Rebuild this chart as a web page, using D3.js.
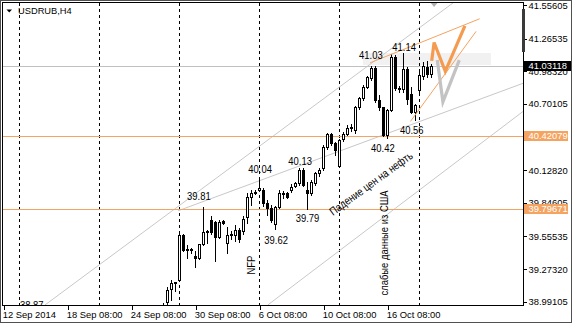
<!DOCTYPE html>
<html>
<head>
<meta charset="utf-8">
<script src="https://cdn.jsdelivr.net/npm/d3@7"></script>
<style>
  html, body { margin: 0; padding: 0; background: #fff; }
  svg { display: block; }
  text { font-family: "Liberation Sans", Arial, sans-serif; }
</style>
</head>
<body>
<svg id="chart" width="572" height="325"></svg>
<script>
// H4 bars are numbered from 12 Sep 2014 (bar 0); the first visible candle is bar 40
const firstBar = 40;
const opens  = [38.93, 38.99, 39.10, 39.155, 39.18, 39.57, 39.44, 39.445, 39.39, 39.37,
                39.49, 39.59, 39.70, 39.68, 39.55, 39.69, 39.50, 39.565, 39.565, 39.61,
                39.60, 39.72, 39.90, 39.935, 39.955, 39.96, 39.84, 39.80, 39.665, 39.81,
                39.93, 39.93, 39.96, 39.99, 40.015, 40.13, 39.96, 39.935, 40.02, 40.10,
                40.15, 40.33, 40.445, 40.36, 40.16, 40.395, 40.445, 40.49, 40.475, 40.67,
                40.75, 40.85, 40.925, 41.01, 40.735, 40.67, 40.43, 40.65, 41.11, 40.84,
                40.83, 41.00, 40.79, 40.63, 40.82, 40.94, 41.02, 40.96];
const highs  = [38.98, 39.12, 39.18, 39.165, 39.60, 39.58, 39.48, 39.455, 39.43, 39.49,
                39.81, 39.61, 39.73, 39.69, 39.70, 39.70, 39.64, 39.60, 39.65, 39.63,
                39.73, 39.93, 39.96, 39.96, 40.04, 39.97, 39.87, 39.83, 39.82, 39.96,
                39.95, 39.94, 40.01, 40.03, 40.145, 40.145, 40.03, 40.04, 40.115, 40.145,
                40.35, 40.45, 40.45, 40.375, 40.395, 40.46, 40.52, 40.525, 40.68, 40.765,
                40.865, 40.94, 41.03, 41.025, 40.78, 40.675, 40.66, 41.13, 41.12, 40.86,
                41.14, 41.02, 40.85, 40.70, 40.98, 41.06, 41.07, 41.05];
const lows   = [38.88, 38.94, 39.01, 39.08, 39.17, 39.43, 39.37, 39.41, 39.29, 39.36,
                39.48, 39.50, 39.58, 39.34, 39.54, 39.66, 39.41, 39.53, 39.52, 39.51,
                39.58, 39.67, 39.83, 39.92, 39.945, 39.82, 39.74, 39.68, 39.62, 39.80,
                39.89, 39.89, 39.94, 39.98, 40.00, 39.99, 39.79, 39.91, 40.00, 40.08,
                40.13, 40.31, 40.345, 40.26, 40.155, 40.38, 40.43, 40.47, 40.45, 40.66,
                40.735, 40.835, 40.91, 40.72, 40.65, 40.42, 40.41, 40.64, 40.82, 40.80,
                40.80, 40.70, 40.62, 40.56, 40.80, 40.92, 40.93, 40.93];
const closes = [38.95, 39.09, 39.15, 39.16, 39.57, 39.44, 39.45, 39.44, 39.37, 39.49,
                39.59, 39.60, 39.59, 39.55, 39.68, 39.67, 39.57, 39.575, 39.61, 39.53,
                39.71, 39.90, 39.93, 39.94, 39.97, 39.84, 39.80, 39.70, 39.81, 39.93,
                39.92, 39.90, 39.985, 40.015, 40.13, 40.00, 39.93, 40.03, 40.10, 40.13,
                40.33, 40.445, 40.36, 40.30, 40.39, 40.445, 40.49, 40.50, 40.67, 40.75,
                40.85, 40.93, 41.01, 40.735, 40.67, 40.43, 40.65, 41.11, 40.84, 40.83,
                41.00, 40.74, 40.63, 40.69, 40.95, 41.03, 40.96, 41.03118];

const xTickBars   = [0, 16, 32, 48, 64, 80, 96];
const xTickLabels = ["12 Sep 2014", "18 Sep 08:00", "24 Sep 08:00", "30 Sep 08:00",
                     "6 Oct 08:00", "10 Oct 08:00", "16 Oct 08:00"];
const weekStartBars = [4, 24, 44, 64, 84, 104];
const yTickValues = [41.55605, 41.26535, 40.98320, 40.70105, 40.41890,
                     40.12820, 39.84605, 39.55535, 39.27320, 38.99105];

const levelPrices = [40.42079, 39.79671];
const lastPrice = 41.03118;

// price notes: text objects anchored at (bar, price)
const noteTexts  = ["39.81", "40.04", "39.62", "39.79", "40.13", "40.42", "40.56", "41.03", "41.14", "38.87"];
const noteBars   = [48.9, 64.2, 68.2, 76.05, 74.2, 94.9, 102.1, 91.9, 100.2, 7.1];
const notePrices = [39.905, 40.138, 39.524, 39.715, 40.207, 40.324, 40.475, 41.128, 41.193, 38.962];

// rotated comments
const commentTexts  = ["NFP", "слабые данные из США", "Падение цен на нефть"];
const commentBars   = [62.0, 95.2, 91.9];
const commentPrices = [39.308, 39.499, 40.015];
const commentAngles = [-90, -90, -36];

// trend lines as [bar1, price1, bar2, price2]
const grayLines = [
  [10.4, 38.962, 113.4, 41.599],
  [43.7, 39.777, 130.0, 40.880],
  [66.1, 38.962, 129.9, 40.635]
];
const orangeLines = [
  [91.7, 41.056, 119.1, 41.437],
  [101.8, 40.550, 118.2, 41.328]
];
// resistance zone [bar1, price1, bar2, price2]
const zone = [89.9, 41.141, 121.9, 41.037];
// forecast zigzags as bar / price lists
const upBars   = [107.1, 107.7, 110.5, 115.4];
const upPrices = [41.073, 41.232, 40.983, 41.376];
const downBars   = [108.5, 109.9, 114.0];
const downPrices = [41.080, 40.719, 41.080];
const markBar = 107.7;

const W = 572, H = 325;
const plotL = 2.5, plotR = 523.5, plotT = 2.5, plotB = 305.5;
const orange = "#f4a460";

const x = d3.scaleLinear().domain([0, 130]).range([3.3, 523.3]);
const y = d3.scaleLinear().domain([38.99105, 41.55605]).range([301.7, 5]);

const svg = d3.select("#chart");

svg.append("rect").attr("width", W).attr("height", H).attr("fill", "#fff");

svg.append("defs").append("clipPath").attr("id", "plotClip")
  .append("rect").attr("x", 3).attr("y", 3).attr("width", plotR - 3.5).attr("height", plotB - 3.5);

const plot = svg.append("g").attr("clip-path", "url(#plotClip)");

// resistance zone
plot.append("rect")
  .attr("x", x(zone[0])).attr("y", y(zone[1]))
  .attr("width", x(zone[2]) - x(zone[0]))
  .attr("height", y(zone[3]) - y(zone[1]))
  .attr("fill", "#f1f1f1");

// weekly separators
plot.selectAll("line.week").data(weekStartBars).join("line")
  .attr("class", "week")
  .attr("x1", d => Math.round(x(d)) + 0.5).attr("x2", d => Math.round(x(d)) + 0.5)
  .attr("y1", plotT).attr("y2", plotB)
  .attr("stroke", "#000").attr("stroke-dasharray", "3,3")
  .attr("shape-rendering", "crispEdges");

// gray channel lines
plot.selectAll("line.chan").data(grayLines).join("line")
  .attr("class", "chan")
  .attr("x1", d => x(d[0])).attr("y1", d => y(d[1]))
  .attr("x2", d => x(d[2])).attr("y2", d => y(d[3]))
  .attr("stroke", "#c8c8c8").attr("stroke-width", 1);

// bid line
plot.append("line")
  .attr("x1", plotL).attr("x2", plotR)
  .attr("y1", Math.round(y(lastPrice)) + 0.5).attr("y2", Math.round(y(lastPrice)) + 0.5)
  .attr("stroke", "#c0c0c0").attr("shape-rendering", "crispEdges");

// horizontal levels
plot.selectAll("line.level").data(levelPrices).join("line")
  .attr("class", "level")
  .attr("x1", plotL).attr("x2", plotR)
  .attr("y1", d => Math.round(y(d)) + 0.5).attr("y2", d => Math.round(y(d)) + 0.5)
  .attr("stroke", orange).attr("shape-rendering", "crispEdges");

// candles
const bars = opens.map((o, j) => ({ bar: firstBar + j, o, h: highs[j], l: lows[j], c: closes[j] }));
const cx = d => Math.round(x(d.bar)) + 0.5;
const candles = plot.selectAll("g.candle").data(bars).join("g")
  .attr("class", "candle").attr("shape-rendering", "crispEdges");

candles.append("line")
  .attr("x1", cx).attr("x2", cx)
  .attr("y1", d => Math.round(y(d.h))).attr("y2", d => Math.round(y(d.l)) + 1)
  .attr("stroke", "#000");

candles.each(function (d) {
  const g = d3.select(this);
  const top = Math.round(y(Math.max(d.o, d.c)));
  const bot = Math.round(y(Math.min(d.o, d.c)));
  if (bot - top < 1) {
    g.append("line")
      .attr("x1", cx(d) - 1.5).attr("x2", cx(d) + 1.5)
      .attr("y1", top + 0.5).attr("y2", top + 0.5)
      .attr("stroke", "#000");
  } else {
    g.append("rect")
      .attr("x", cx(d) - 1).attr("y", top + 0.5)
      .attr("width", 2).attr("height", bot - top)
      .attr("fill", d.c >= d.o ? "#fff" : "#000")
      .attr("stroke", "#000");
  }
});

// forecast trend lines
plot.selectAll("line.fc").data(orangeLines).join("line")
  .attr("class", "fc")
  .attr("x1", d => x(d[0])).attr("y1", d => y(d[1]))
  .attr("x2", d => x(d[2])).attr("y2", d => y(d[3]))
  .attr("stroke", orange).attr("stroke-width", 1);

const zig = d3.line().x(d => x(d[0])).y(d => y(d[1]));
plot.append("path")
  .attr("d", zig(downBars.map((b, i) => [b, downPrices[i]])))
  .attr("fill", "none").attr("stroke", "#c3c3c3").attr("stroke-width", 3.2);
plot.append("path")
  .attr("d", zig(upBars.map((b, i) => [b, upPrices[i]])))
  .attr("fill", "none").attr("stroke", "#f59b50").attr("stroke-width", 3.2);

// small marker at the top edge
const mx = x(markBar);
plot.append("path")
  .attr("d", `M${mx - 5},1 L${mx + 5},1 L${mx},7 Z`)
  .attr("fill", "#b0b0b0");

// notes
const narrow = 0.82;
plot.selectAll("text.note").data(noteTexts).join("text")
  .attr("class", "note")
  .attr("transform", (d, i) => `translate(${x(noteBars[i])},${y(notePrices[i])}) scale(${narrow},1)`)
  .attr("text-anchor", "middle").attr("dy", "0.36em")
  .attr("font-size", 11.5).attr("fill", "#000")
  .text(d => d);

plot.selectAll("text.comment").data(commentTexts).join("text")
  .attr("class", "comment")
  .attr("transform", (d, i) =>
    `translate(${x(commentBars[i])},${y(commentPrices[i])}) rotate(${commentAngles[i]}) scale(${narrow},1)`)
  .attr("text-anchor", "middle").attr("dy", "0.36em")
  .attr("font-size", 11.5).attr("fill", "#000")
  .text(d => d);

// frame
svg.append("rect").attr("x", 0.5).attr("y", 0.5).attr("width", W - 1).attr("height", 322)
  .attr("fill", "none").attr("stroke", "#505050").attr("shape-rendering", "crispEdges");
svg.append("path")
  .attr("d", `M${plotL},${plotB} L${plotL},${plotT} L${plotR},${plotT} L${plotR},${plotB} Z`)
  .attr("fill", "none").attr("stroke", "#000").attr("shape-rendering", "crispEdges");

// y axis
const yAxis = d3.axisRight(y).tickValues(yTickValues).tickSize(3).tickPadding(2)
  .tickFormat(d => d.toFixed(5));
const gy = svg.append("g").attr("transform", `translate(${plotR},0)`).call(yAxis);
gy.select(".domain").remove();
gy.selectAll("text").attr("font-size", 9.4).attr("font-family", "Liberation Sans, Arial, sans-serif").attr("fill", "#000");
gy.selectAll("line").attr("stroke", "#000").attr("shape-rendering", "crispEdges");

// scroll marker on the price axis
svg.append("rect").attr("x", 522).attr("y", 9).attr("width", 3).attr("height", 43).attr("fill", "#3a3a3a");

// x axis
const xAxis = d3.axisBottom(x).tickValues(xTickBars).tickSize(4).tickPadding(2)
  .tickFormat((d, i) => xTickLabels[i]);
const gx = svg.append("g").attr("transform", `translate(0,${plotB})`).call(xAxis);
gx.select(".domain").remove();
gx.selectAll("text").attr("text-anchor", "start").attr("dx", -1)
  .attr("font-size", 9.4).attr("font-family", "Liberation Sans, Arial, sans-serif").attr("fill", "#000");
gx.selectAll("line").attr("stroke", "#000").attr("shape-rendering", "crispEdges")
  .attr("transform", "translate(0.5,0)");

// price labels on the axis
const tags = [
  { p: lastPrice, bg: "#000", w: 47 },
  { p: levelPrices[0], bg: orange, w: 44 },
  { p: levelPrices[1], bg: orange, w: 44 }
];
const tag = svg.selectAll("g.tag").data(tags).join("g")
  .attr("class", "tag")
  .attr("transform", d => `translate(0,${Math.round(y(d.p))})`);
tag.append("rect").attr("x", 524).attr("y", -5).attr("width", d => d.w).attr("height", 10)
  .attr("fill", d => d.bg);
tag.append("text").attr("x", 528.5).attr("dy", "0.35em")
  .attr("font-size", 9.4).attr("fill", "#fff")
  .text(d => d.p.toFixed(5));

// title
svg.append("path").attr("d", "M6.5,9.5 L12,9.5 L9.25,12.5 Z").attr("fill", "#000");
svg.append("text").attr("x", 18).attr("y", 14)
  .attr("font-size", 9.3).attr("fill", "#000").text("USDRUB,H4");
</script>
</body>
</html>
